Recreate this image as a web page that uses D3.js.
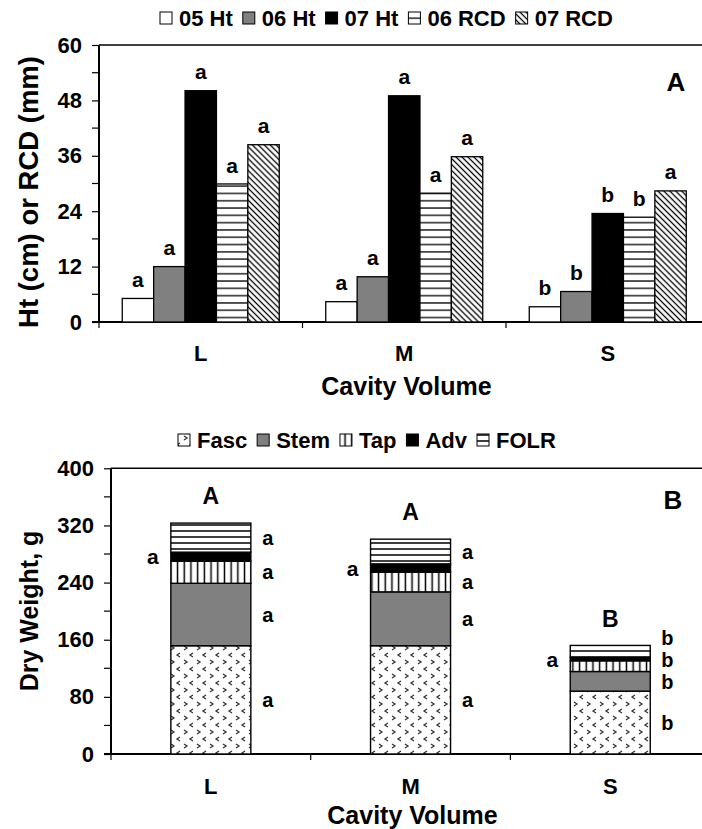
<!DOCTYPE html>
<html lang="en">
<head>
  <meta charset="utf-8">
  <title>Cavity volume</title>
  <script src="https://d3js.org/d3.v7.min.js" charset="utf-8"></script>
  <style>
    body { margin: 0; background: #fff; }
    text { font-family: "Liberation Sans", Arial, Helvetica, sans-serif; font-weight: bold; fill: #000; }
  </style>
</head>
<body>
<script>
// ---- data ----
var categories = ["L", "M", "S"];

// panel A (cm / mm)
var htSeries = ["05 Ht", "06 Ht", "07 Ht", "06 RCD", "07 RCD"];
var ht05 = [5.1, 4.4, 3.3];
var ht06 = [12.0, 9.8, 6.6];
var ht07 = [50.1, 49.0, 23.5];
var rcd06 = [29.9, 27.9, 22.7];
var rcd07 = [38.4, 35.8, 28.4];
var htLetters = [["a", "a", "a", "a", "a"], ["a", "a", "a", "a", "a"], ["b", "b", "b", "b", "a"]];
var htTicks = [0, 12, 24, 36, 48, 60];

// panel B (g), stacked bottom to top
var dwSeries = ["Fasc", "Stem", "Tap", "Adv", "FOLR"];
var fasc = [151.6, 151.6, 88.0];
var stem = [87.4, 75.4, 27.5];
var tap = [31.0, 27.5, 15.0];
var adv = [12.6, 11.7, 4.7];
var folr = [40.7, 34.6, 16.8];
var totalLetters = ["A", "A", "B"];
var dwLetters = [["a", "a", "a", "a", "a"], ["a", "a", "a", "a", "a"], ["b", "b", "b", "a", "b"]];
var dwTicks = [0, 80, 160, 240, 320, 400];

var W = 702, H = 829;
var svg = d3.select("body").append("svg").attr("width", W).attr("height", H);

// ---- fill patterns ----
var defs = svg.append("defs");
function linePattern(id, size, sw, rot) {
  var p = defs.append("pattern").attr("id", id)
    .attr("patternUnits", "userSpaceOnUse")
    .attr("width", size).attr("height", size);
  if (rot) p.attr("patternTransform", "rotate(" + rot + ")");
  p.append("rect").attr("width", size).attr("height", size).attr("fill", "#fff");
  p.append("line").attr("x1", 0).attr("x2", size).attr("y1", size / 2).attr("y2", size / 2)
    .attr("stroke", "#000").attr("stroke-width", sw);
}
linePattern("hl", 7.3, 1.3, 0);
linePattern("diag", 4.2, 1.3, 45);
linePattern("vl", 6.7, 1.5, 90);
linePattern("folr", 6, 1.5, 0);

var fp = defs.append("pattern").attr("id", "fasc")
  .attr("patternUnits", "userSpaceOnUse").attr("width", 13).attr("height", 14);
fp.append("rect").attr("width", 13).attr("height", 14).attr("fill", "#fff");
fp.append("path").attr("d", "M2,2 L5,4 L2,6 M11,9 L8,11 L11,13")
  .attr("fill", "none").attr("stroke", "#333").attr("stroke-width", 1.3);

var htFills = ["#fff", "#808080", "#000", "url(#hl)", "url(#diag)"];
var dwFills = ["url(#fasc)", "#808080", "url(#vl)", "#000", "url(#folr)"];

function legend(items, fills, y, x0) {
  var g = svg.append("g");
  var x = x0;
  items.forEach(function(name, i) {
    g.append("rect").attr("x", x).attr("y", y - 6).attr("width", 12).attr("height", 12)
      .attr("fill", fills[i]).attr("stroke", "#000").attr("stroke-width", 1);
    var t = g.append("text").attr("x", x + 19).attr("y", y).attr("dy", "0.36em")
      .attr("font-size", 22).text(name);
    x += 19 + t.node().getComputedTextLength() + 10;
  });
}

function frame(x, y, top, bottom, ticks, minorStep, title, titleX, titleY, titleSize, labOff, cvOff) {
  var yAxis = d3.axisLeft(y).tickValues(ticks).tickSize(7).tickPadding(10);
  var gy = svg.append("g").attr("transform", "translate(" + x.range()[0] + ",0)").call(yAxis);
  gy.select(".domain").remove();
  gy.selectAll(".tick line").attr("stroke-width", 1.2);
  gy.selectAll("text").attr("font-size", 22).style("font-family", "Liberation Sans, Arial, sans-serif")
    .attr("font-weight", "bold");
  var minor = d3.range(minorStep, y.domain()[1], minorStep * 2);
  svg.append("g").selectAll("line").data(minor).enter().append("line")
    .attr("x1", x.range()[0] - 7).attr("x2", x.range()[0])
    .attr("y1", function(d) { return y(d); }).attr("y2", function(d) { return y(d); })
    .attr("stroke", "#000").attr("stroke-width", 1.2);

  svg.append("line").attr("x1", x.range()[0]).attr("x2", x.range()[0])
    .attr("y1", top).attr("y2", bottom).attr("stroke", "#000").attr("stroke-width", 2);
  svg.append("line").attr("x1", x.range()[0]).attr("x2", W)
    .attr("y1", top).attr("y2", top).attr("stroke", "#000").attr("stroke-width", 1.5);
  svg.append("line").attr("x1", x.range()[0] - 7).attr("x2", W)
    .attr("y1", bottom).attr("y2", bottom).attr("stroke", "#000").attr("stroke-width", 2);

  // category boundary ticks
  svg.append("g").selectAll("line").data(categories).enter().append("line")
    .attr("x1", function(d) { return x(d); })
    .attr("x2", function(d) { return x(d); })
    .attr("y1", bottom).attr("y2", bottom + 6)
    .attr("stroke", "#000").attr("stroke-width", 1.2);

  svg.append("g").selectAll("text").data(categories).enter().append("text")
    .attr("x", function(d) { return x(d) + x.bandwidth() / 2; })
    .attr("y", bottom + labOff).attr("dy", "0.36em").attr("text-anchor", "middle")
    .attr("font-size", 22).text(function(d) { return d; });

  svg.append("text").attr("x", (x.range()[0] + W) / 2 + 6).attr("y", bottom + cvOff).attr("dy", "0.36em")
    .attr("text-anchor", "middle").attr("font-size", 25).text("Cavity Volume");

  svg.append("text").attr("transform", "translate(" + titleX + "," + titleY + ") rotate(-90)")
    .attr("dy", "0.36em").attr("text-anchor", "middle").attr("font-size", titleSize).text(title);
}

// ---- panel A ----
var aTop = 45, aBot = 322;
var xA = d3.scaleBand().domain(categories).range([99, 99 + 3 * 203.5]).padding(0);
var yA = d3.scaleLinear().domain([0, 60]).range([aBot, aTop]);
var xInner = d3.scaleBand().domain(htSeries).range([0, 157]);
var htValues = [ht05, ht06, ht07, rcd06, rcd07];

legend(htSeries, htFills, 18, 160);
frame(xA, yA, aTop, aBot, htTicks, 6, "Ht (cm) or RCD (mm)", 28, 192, 27.5, 31, 64);

var groupOff = (203.5 - 157) / 2;
categories.forEach(function(c, ci) {
  var g = svg.append("g").attr("transform", "translate(" + (xA(c) + groupOff) + ",0)");
  var rows = htSeries.map(function(s, si) { return { s: s, v: htValues[si][ci], fill: htFills[si], l: htLetters[ci][si] }; });
  g.selectAll("rect").data(rows).enter().append("rect")
    .attr("x", function(d) { return xInner(d.s); })
    .attr("y", function(d) { return yA(d.v); })
    .attr("width", xInner.bandwidth())
    .attr("height", function(d) { return aBot - yA(d.v); })
    .attr("fill", function(d) { return d.fill; })
    .attr("stroke", "#000").attr("stroke-width", 1.3);
  g.selectAll("text").data(rows).enter().append("text")
    .attr("x", function(d) { return xInner(d.s) + xInner.bandwidth() / 2; })
    .attr("y", function(d) { return yA(d.v) - 19; }).attr("dy", "0.36em")
    .attr("text-anchor", "middle").attr("font-size", 21).text(function(d) { return d.l; });
});
svg.append("text").attr("x", 676).attr("y", 82).attr("dy", "0.36em").attr("text-anchor", "middle")
  .attr("font-size", 26).text("A");

// ---- panel B ----
var bTop = 468.3, bBot = 754;
var xB = d3.scaleBand().domain(categories).range([111, 111 + 3 * 199.7]).padding(0);
var yB = d3.scaleLinear().domain([0, 400]).range([bBot, bTop]);
var dwValues = [fasc, stem, tap, adv, folr];

legend(dwSeries, dwFills, 440, 178);
frame(xB, yB, bTop, bBot, dwTicks, 40, "Dry Weight, g", 29, 611, 25, 32, 61);

var table = categories.map(function(c, ci) {
  var o = { cat: c };
  dwSeries.forEach(function(s, si) { o[s] = dwValues[si][ci]; });
  return o;
});
var stacked = d3.stack().keys(dwSeries)(table);
var barW = 80;

stacked.forEach(function(layer, si) {
  svg.append("g").selectAll("rect").data(layer).enter().append("rect")
    .attr("x", function(d) { return xB(d.data.cat) + (xB.bandwidth() - barW) / 2; })
    .attr("y", function(d) { return yB(d[1]); })
    .attr("width", barW)
    .attr("height", function(d) { return yB(d[0]) - yB(d[1]); })
    .attr("fill", dwFills[si])
    .attr("stroke", "#000").attr("stroke-width", 1.4);
});

categories.forEach(function(c, ci) {
  var left = xB(c) + (xB.bandwidth() - barW) / 2, right = left + barW;
  var top = stacked[dwSeries.length - 1][ci][1];
  svg.append("text").attr("x", left + barW / 2).attr("y", yB(top) - 27).attr("dy", "0.36em")
    .attr("text-anchor", "middle").attr("font-size", 23).text(totalLetters[ci]);

  // right-side letters, pushed apart from the bottom up
  var labs = [];
  stacked.forEach(function(layer, si) {
    var mid = yB((layer[ci][0] + layer[ci][1]) / 2);
    if (dwSeries[si] === "Adv") {
      svg.append("text").attr("x", left - 18).attr("y", mid).attr("dy", "0.36em")
        .attr("text-anchor", "middle").attr("font-size", 21).text(dwLetters[ci][si]);
    } else {
      labs.push({ y: mid, t: dwLetters[ci][si] });
    }
  });
  for (var k = 1; k < labs.length; k++) {
    if (labs[k].y > labs[k - 1].y - 22) labs[k].y = labs[k - 1].y - 22;
  }
  labs.forEach(function(l) {
    svg.append("text").attr("x", right + 17).attr("y", l.y).attr("dy", "0.36em")
      .attr("text-anchor", "middle").attr("font-size", 20).text(l.t);
  });
});
svg.append("text").attr("x", 673).attr("y", 500).attr("dy", "0.36em").attr("text-anchor", "middle")
  .attr("font-size", 26).text("B");
</script>
</body>
</html>
